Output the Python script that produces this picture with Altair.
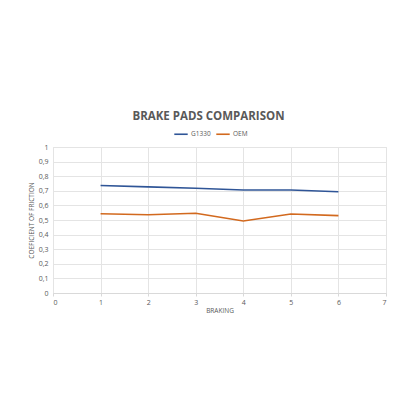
import altair as alt
import pandas as pd

braking = [1, 2, 3, 4, 5, 6]
g1330 = [0.736, 0.727, 0.717, 0.705, 0.705, 0.694]
oem = [0.543, 0.536, 0.546, 0.493, 0.541, 0.530]
series_names = ["G1330", "OEM"]
colors = ["#2F5597", "#D2691E"]

rows = []
for b, v in zip(braking, g1330):
    rows.append({"BRAKING": b, "value": v, "series": "G1330"})
for b, v in zip(braking, oem):
    rows.append({"BRAKING": b, "value": v, "series": "OEM"})
df = pd.DataFrame(rows)

font = "Open Sans"
gray = "#595959"

chart = alt.Chart(df).mark_line(strokeWidth=1.6).encode(
    x=alt.X("BRAKING:Q", title="BRAKING",
            scale=alt.Scale(domain=[0, 7], nice=False),
            axis=alt.Axis(values=[0, 1, 2, 3, 4, 5, 6, 7], format="d",
                          grid=True, gridColor="#e4e4e4", domainColor="#d9d9d9",
                          tickColor="#d9d9d9", tickSize=3, labelPadding=2,
                          labelFontSize=7, labelColor=gray, titleFontSize=6.5,
                          titleColor=gray, titleFontWeight="normal", titlePadding=2,
                          labelFont=font, titleFont=font)),
    y=alt.Y("value:Q", title="COEFICIENT OF FRICTION",
            scale=alt.Scale(domain=[0, 1], nice=False),
            axis=alt.Axis(values=[0, 0.1, 0.2, 0.3, 0.4, 0.5, 0.6, 0.7, 0.8, 0.9, 1],
                          labelExpr="replace(format(datum.value, '.1~f'), '.', ',')",
                          grid=True, gridColor="#e4e4e4", domain=False, ticks=False,
                          labelPadding=5, labelFontSize=7, labelColor=gray,
                          titleFontSize=6.5, titleColor=gray, titleFontWeight="normal",
                          titlePadding=4, labelFont=font, titleFont=font)),
    color=alt.Color("series:N", title=None,
                    scale=alt.Scale(domain=series_names, range=colors),
                    legend=alt.Legend(orient="none", legendX=120, legendY=-21,
                                      direction="horizontal",
                                      symbolType="stroke", symbolStrokeWidth=1.6,
                                      symbolSize=180, labelFontSize=6.5,
                                      labelColor=gray, labelFont=font,
                                      labelOffset=2, columnPadding=2)),
).properties(
    width=333,
    height=146,
    title=alt.Title("BRAKE PADS COMPARISON", fontSize=11.5, font=font,
                    fontWeight="bold", color=gray, anchor="middle", offset=4, dx=-11),
    autosize=alt.AutoSizeParams(type="none"),
    padding={"left": 45, "top": 139, "right": 26, "bottom": 110},
).configure_view(stroke=None).configure(background="white")

chart.save("out.html", embed_options={"renderer": "svg", "actions": False})
